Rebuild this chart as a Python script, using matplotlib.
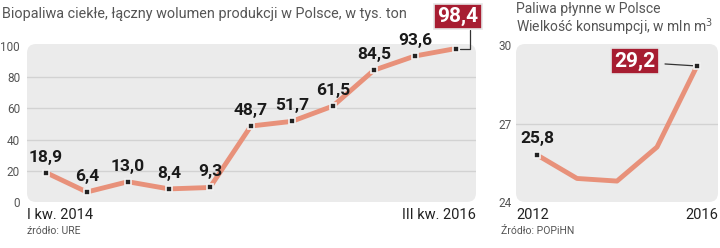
import matplotlib.pyplot as plt
from matplotlib.patches import FancyBboxPatch

# production of liquid biofuels, thousand tonnes, I q 2014 .. III q 2016
bio_values = [18.9, 6.4, 13.0, 8.4, 9.3, 48.7, 51.7, 61.5, 84.5, 93.6, 98.4]
bio_ticks = [0, 20, 40, 60, 80, 100]
bio_xlabels = ['I kw. 2014', 'III kw. 2016']

# fuel consumption, mln m3
years = [2012, 2013, 2014, 2015, 2016]
fuel_values = [25.8, 24.9, 24.8, 26.1, 29.2]
fuel_ticks = [24, 27, 30]

LINE = '#e8917a'
RED = '#a71d31'
BG = '#ebebeb'
GRID = '#d2d2d2'
GREY = '#555555'

plt.rcParams['font.family'] = ['Roboto', 'DejaVu Sans']

W, H = 720, 248
fig = plt.figure(figsize=(7.2, 2.48), dpi=100)


def px_axes(x0, y0, x1, y1):
    return fig.add_axes([x0 / W, 1 - y1 / H, (x1 - x0) / W, (y1 - y0) / H])


def panel(ax, wpx, hpx):
    ax.set_facecolor('none')
    for s in ax.spines.values():
        s.set_visible(False)
    ax.add_patch(FancyBboxPatch((0, 0), 1, 1, transform=ax.transAxes,
                                boxstyle=f'round,pad=0,rounding_size={9 / wpx}',
                                mutation_aspect=wpx / hpx,
                                fc=BG, ec='none', zorder=0, clip_on=False))
    ax.tick_params(length=0, labelsize=8.5, labelcolor=GREY, pad=5)
    ax.set_xticks([])


def marker(ax, x, y):
    ax.plot(x, y, 's', ms=4.3, mfc='#222222', mec='#f2f2f2', mew=1.2, zorder=4)


def value_label(ax, x, y, text, dy):
    ax.annotate(text, (x, y), xytext=(0, dy), textcoords='offset pixels',
                ha='center', va='bottom', fontsize=12.5, fontweight='bold',
                color='#1a1a1a', zorder=5)


def red_box(ax, xy, offset, text):
    ax.annotate(text, xy, xytext=offset, textcoords='offset pixels',
                ha='center', va='center', fontsize=15, fontweight='bold',
                color='white', zorder=6,
                bbox=dict(boxstyle='square,pad=0.15', fc=RED, ec='#e6e6e6', lw=1.2))


def edge_labels(ax, labels):
    ax.text(0, -0.04, labels[0], transform=ax.transAxes, ha='left', va='top',
            fontsize=10.5, color='#222222')
    ax.text(1, -0.04, labels[1], transform=ax.transAxes, ha='right', va='top',
            fontsize=10.5, color='#222222')


# left panel
ax1 = px_axes(27, 44, 476, 202)
panel(ax1, 449, 158)
xs = list(range(len(bio_values)))
ax1.set_xlim(-0.46, len(bio_values) - 0.51)
ax1.set_ylim(0, 101.3)
ax1.set_yticks(bio_ticks)
for t in bio_ticks[1:-1]:
    ax1.axhline(t, color=GRID, lw=1, zorder=1)
ax1.plot(xs, bio_values, color=LINE, lw=3.5, solid_joinstyle='miter', zorder=3)
for i, v in enumerate(bio_values):
    marker(ax1, i, v)
    if i < len(bio_values) - 1:
        value_label(ax1, i, v, f'{v:.1f}'.replace('.', ','), 8)
# connector: from the point right, then up to the box
ax1.annotate('', (xs[-1], bio_values[-1]), xytext=(14, 19), textcoords='offset pixels',
             arrowprops=dict(arrowstyle='-', color='#333333', lw=0.9,
                             connectionstyle='angle,angleA=-90,angleB=0,rad=0',
                             shrinkA=0, shrinkB=3), zorder=2)
red_box(ax1, (xs[-1], bio_values[-1]), (2, 32), '98,4')
edge_labels(ax1, bio_xlabels)

# right panel
ax2 = px_axes(516, 44, 718, 202)
panel(ax2, 202, 158)
ax2.set_xlim(2011.475, 2016.525)
ax2.set_ylim(24, 30.04)
ax2.set_yticks(fuel_ticks)
ax2.tick_params(axis='y', pad=3)
ax2.axhline(27, color=GRID, lw=1, zorder=1)
ax2.plot(years, fuel_values, color=LINE, lw=3.5, zorder=3)
marker(ax2, years[0], fuel_values[0])
marker(ax2, years[-1], fuel_values[-1])
value_label(ax2, years[0], fuel_values[0], '25,8', 9)
ax2.annotate('', (years[-1], fuel_values[-1]), xytext=(-32, 2), textcoords='offset pixels',
             arrowprops=dict(arrowstyle='-', color='#333333', lw=0.9,
                             shrinkA=0, shrinkB=3), zorder=2)
red_box(ax2, (years[-1], fuel_values[-1]), (-62, 5), '29,2')
edge_labels(ax2, [str(years[0]), str(years[-1])])

# titles and sources
fig.text(2 / W, 1 - 14 / H, 'Biopaliwa ciekłe, łączny wolumen produkcji w Polsce, w tys. ton',
         fontsize=10.4, color=GREY, va='center')
fig.text(516 / W, 1 - 9 / H, 'Paliwa płynne w Polsce', fontsize=10, color=GREY,
         va='center')
fig.text(516 / W, 1 - 27 / H, 'Wielkość konsumpcji, w mln m$^3$', fontsize=10,
         color=GREY, va='center')
fig.text(27 / W, 1 - 231 / H, 'źródło: URE', fontsize=7.5, color=GREY, va='center')
fig.text(501 / W, 1 - 231 / H, 'Źródło: POPiHN', fontsize=7.5, color=GREY, va='center')

fig.savefig('out.png', dpi=100)
